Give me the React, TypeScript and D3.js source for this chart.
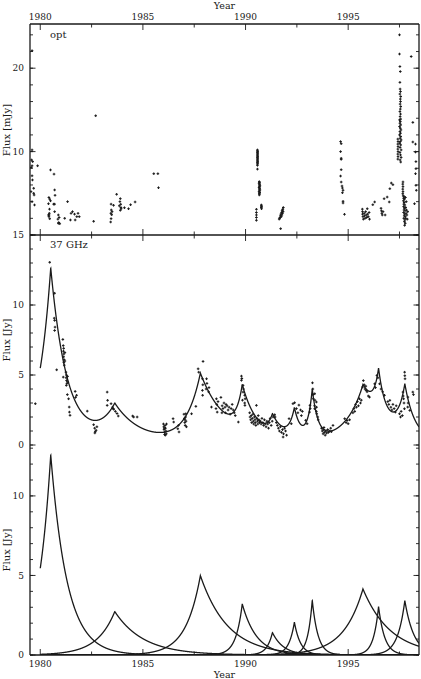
import React from 'react';
import * as d3 from 'd3';

// ---------------- DATA ----------------
const xTickYears = [1980, 1985, 1990, 1995];

// flare model components (peak year, amplitude [Jy], rise & decay timescales [yr])
const flareYears = [1980.51, 1983.63, 1987.8, 1989.84, 1991.31, 1992.38, 1993.25, 1995.72, 1996.48, 1997.76];
const flareAmps = [12.58, 2.73, 4.99, 3.21, 1.41, 2.06, 3.44, 4.15, 3.04, 3.42];
const flareRise = [0.61, 0.87, 0.71, 0.31, 0.27, 0.27, 0.22, 0.95, 0.25, 0.35];
const flareDecay = [0.8, 1.4, 1.33, 0.7, 0.54, 0.3, 0.28, 1.35, 0.3, 0.45];

// optical flux [mJy]
const optData: [number, number][] = [
  [1979.6, 22.1], [1979.6, 10.2], [1979.63, 8.8], [1979.56, 8.1], [1979.6, 8.3], [1979.58, 9.0], [1979.87, 8.3],
  [1979.6, 7.1], [1979.62, 6.6], [1979.55, 5.2], [1979.68, 5.6], [1979.7, 4.8], [1979.68, 5.0], [1979.72, 3.6], [1979.6, 4.0],
  [1980.5, 7.8], [1980.67, 7.3], [1980.42, 4.5], [1980.46, 4.3], [1980.5, 4.1], [1980.4, 3.75], [1980.45, 3.1],
  [1980.43, 2.4], [1980.4, 2.4], [1980.46, 1.95], [1980.44, 2.6], [1980.42, 2.2], [1980.7, 5.4], [1980.72, 4.76],
  [1980.65, 3.7], [1980.7, 3.7], [1980.7, 2.8], [1980.88, 2.4], [1980.86, 1.9], [1980.9, 1.5], [1980.95, 1.35],
  [1980.88, 1.4], [1980.92, 2.1],
  [1981.19, 2.0], [1981.33, 4.0], [1981.5, 2.6], [1981.57, 2.8], [1981.67, 2.5], [1981.7, 1.8], [1981.78, 2.2],
  [1981.84, 2.6], [1981.9, 2.2], [1981.47, 1.8],
  [1982.6, 1.64], [1982.7, 14.3],
  [1983.45, 3.7], [1983.46, 3.0], [1983.44, 2.6], [1983.45, 1.96], [1983.43, 1.56], [1983.48, 2.43], [1983.5, 2.8],
  [1983.57, 3.56], [1983.72, 4.88], [1983.88, 4.0], [1983.9, 4.36], [1983.92, 3.68], [1983.94, 3.15], [1983.9, 2.96],
  [1983.85, 3.5], [1983.93, 3.3], [1984.1, 3.27], [1984.3, 3.15], [1984.4, 3.63], [1984.62, 3.96],
  [1985.53, 7.35], [1985.73, 7.35], [1985.76, 5.67],
  [1990.58, 10.2], [1990.58, 10.1], [1990.59, 10.0], [1990.58, 9.9], [1990.59, 9.8], [1990.58, 9.7], [1990.59, 9.6],
  [1990.58, 9.5], [1990.59, 9.4], [1990.58, 9.3], [1990.59, 9.2], [1990.58, 9.1], [1990.59, 9.0], [1990.58, 8.9],
  [1990.59, 8.8], [1990.58, 8.7], [1990.59, 8.6], [1990.58, 8.5], [1990.58, 8.35], [1990.58, 7.9],
  [1990.67, 6.4], [1990.68, 6.3], [1990.66, 6.2], [1990.69, 6.1], [1990.67, 6.0], [1990.7, 5.9], [1990.68, 5.8],
  [1990.66, 5.7], [1990.69, 5.6], [1990.67, 5.5], [1990.7, 5.4], [1990.68, 5.3], [1990.66, 5.2], [1990.69, 5.1],
  [1990.67, 5.0], [1990.68, 4.9], [1990.67, 4.8],
  [1990.77, 3.6], [1990.77, 3.5], [1990.78, 3.4], [1990.77, 3.3], [1990.78, 3.15],
  [1990.53, 3.08], [1990.53, 2.7], [1990.53, 2.4], [1990.53, 2.1], [1990.53, 1.76],
  [1991.84, 3.3], [1991.82, 3.1], [1991.8, 3.0], [1991.78, 2.9], [1991.83, 2.8], [1991.76, 2.7], [1991.8, 2.6],
  [1991.72, 2.5], [1991.77, 2.4], [1991.7, 2.3], [1991.74, 2.2], [1991.68, 2.1], [1991.66, 2.0], [1991.64, 1.9],
  [1991.71, 0.76],
  [1994.63, 11.2], [1994.66, 10.95], [1994.63, 10.0], [1994.66, 9.2], [1994.66, 9.07], [1994.66, 7.83],
  [1994.63, 7.07], [1994.66, 6.35], [1994.7, 5.87], [1994.72, 5.63], [1994.75, 5.36], [1994.72, 5.07],
  [1994.75, 4.04], [1994.75, 3.84], [1994.82, 2.48],
  [1995.69, 3.1], [1995.7, 2.8], [1995.7, 2.5], [1995.72, 2.2], [1995.74, 1.9], [1995.78, 2.6], [1995.8, 2.3],
  [1995.82, 2.0], [1995.85, 2.8], [1995.88, 2.4], [1995.9, 2.1], [1995.93, 3.15], [1995.95, 2.5], [1995.98, 2.2],
  [1996.02, 2.7], [1996.04, 1.9],
  [1996.2, 3.63], [1996.29, 3.96],
  [1996.6, 3.2], [1996.62, 2.9], [1996.64, 2.6], [1996.66, 2.4], [1996.7, 2.8], [1996.75, 4.35], [1996.8, 2.4],
  [1996.9, 4.55], [1997.0, 3.96], [1997.03, 5.55], [1997.1, 6.23], [1997.18, 6.03],
  [1997.5, 24.0], [1997.5, 21.7], [1997.52, 20.2], [1997.54, 19.6], [1997.52, 18.3],
  [1997.53, 17.5], [1997.55, 17.2], [1997.52, 16.9], [1997.56, 16.6], [1997.54, 16.3], [1997.55, 16.0],
  [1997.53, 15.7], [1997.56, 15.4], [1997.54, 15.1], [1997.52, 14.8], [1997.55, 14.5], [1997.53, 14.2], [1997.56, 13.9],
  [1997.5, 13.8], [1997.54, 13.6], [1997.52, 13.4], [1997.56, 13.2], [1997.5, 13.0], [1997.54, 12.8], [1997.57, 12.6],
  [1997.52, 12.4], [1997.55, 12.2], [1997.5, 12.0], [1997.56, 11.8], [1997.53, 11.6], [1997.58, 11.4],
  [1997.54, 11.2], [1997.51, 11.0], [1997.56, 10.8], [1997.53, 10.5], [1997.58, 10.2], [1997.52, 9.9],
  [1997.55, 9.6], [1997.58, 9.3], [1997.53, 9.0], [1997.56, 8.75],
  [1997.42, 11.5], [1997.43, 11.2], [1997.42, 10.9], [1997.43, 10.6], [1997.42, 10.3], [1997.43, 10.0],
  [1997.42, 9.7], [1997.43, 9.4], [1997.42, 9.1],
  [1997.67, 6.36], [1997.66, 6.1], [1997.67, 5.8], [1997.66, 5.5], [1997.67, 5.2], [1997.66, 4.95],
  [1997.68, 4.7], [1997.72, 4.6], [1997.7, 4.4], [1997.74, 4.3], [1997.69, 4.1], [1997.73, 3.9], [1997.71, 3.7],
  [1997.76, 3.6], [1997.7, 3.4], [1997.74, 3.2], [1997.72, 3.0], [1997.77, 2.9], [1997.7, 2.7], [1997.75, 2.5],
  [1997.73, 2.3], [1997.78, 2.2], [1997.71, 2.0], [1997.76, 1.8], [1997.74, 1.6], [1997.78, 1.4], [1997.75, 1.16],
  [1997.8, 3.3], [1997.82, 2.6], [1997.8, 2.0], [1997.84, 3.0], [1997.86, 2.4], [1997.9, 2.8], [1997.88, 1.9],
  [1997.83, 4.0], [1997.79, 4.5],
  [1998.07, 21.4], [1998.15, 13.5], [1998.15, 11.15], [1998.28, 10.9], [1998.28, 9.95], [1998.3, 7.95],
  [1998.28, 7.35], [1998.3, 5.96], [1998.32, 5.36], [1998.23, 3.75], [1998.3, 8.8],
];

// 37 GHz flux [Jy]
const radioData: [number, number][] = [
  [1979.76, 2.95],
  [1980.46, 13.05], [1980.7, 10.84], [1980.68, 9.06], [1980.7, 8.9], [1980.72, 8.42], [1980.7, 8.18], [1980.8, 5.37],
  [1981.1, 7.54], [1981.12, 7.1], [1981.14, 6.9], [1981.13, 6.7], [1981.15, 6.5], [1981.14, 6.3], [1981.16, 6.1],
  [1981.15, 5.9], [1981.17, 5.7], [1981.2, 6.6], [1981.2, 6.0], [1981.12, 4.85],
  [1981.25, 5.2], [1981.27, 5.0], [1981.26, 4.8], [1981.28, 4.6], [1981.3, 4.4], [1981.27, 4.26], [1981.33, 4.9],
  [1981.34, 4.5], [1981.32, 3.6], [1981.38, 3.3], [1981.41, 2.71], [1981.42, 2.35], [1981.45, 2.12],
  [1981.7, 3.83], [1981.77, 3.55], [1981.72, 3.4],
  [1982.29, 2.42],
  [1982.6, 1.45], [1982.65, 1.2], [1982.68, 0.95], [1982.72, 1.05], [1982.66, 0.86], [1982.76, 1.3],
  [1983.26, 3.78], [1983.28, 3.19], [1983.26, 2.83], [1983.45, 2.95], [1983.52, 2.7], [1983.58, 2.55],
  [1983.66, 2.4], [1983.74, 2.25], [1983.8, 2.07], [1983.55, 2.6],
  [1984.5, 2.07], [1984.55, 2.0], [1984.72, 2.0],
  [1986.0, 1.5], [1986.02, 1.3], [1986.03, 1.1], [1986.05, 0.9], [1986.06, 0.75], [1986.08, 1.4], [1986.1, 1.2],
  [1986.12, 1.0], [1986.14, 0.8], [1986.15, 1.5], [1986.04, 1.2], [1986.09, 0.7],
  [1986.47, 1.88], [1986.5, 1.64],
  [1986.7, 1.16], [1986.76, 0.93], [1986.73, 1.4],
  [1987.0, 2.2], [1987.02, 1.9], [1987.04, 1.6], [1987.06, 1.4], [1987.08, 2.0], [1987.1, 1.7], [1987.12, 1.3],
  [1987.05, 1.8], [1987.09, 2.23],
  [1987.37, 2.23], [1987.58, 2.76],
  [1987.69, 5.44], [1987.72, 5.2], [1987.93, 5.97],
  [1987.9, 4.73], [1987.92, 4.3], [1987.9, 3.9], [1987.91, 3.55],
  [1988.1, 4.73], [1988.12, 4.4], [1988.08, 4.0], [1988.2, 3.8], [1988.22, 4.1],
  [1988.34, 2.71],
  [1988.58, 3.3], [1988.6, 2.9], [1988.56, 2.6], [1988.62, 2.35], [1988.66, 3.1],
  [1988.8, 3.4], [1988.86, 2.8], [1988.9, 2.6], [1988.95, 3.0], [1989.0, 2.7], [1989.05, 2.9], [1989.1, 2.8],
  [1989.15, 2.5], [1989.2, 2.7], [1989.25, 2.2], [1989.3, 2.6], [1989.35, 2.9], [1989.4, 2.5], [1989.45, 2.3],
  [1989.5, 2.1], [1988.85, 2.3], [1989.02, 2.3],
  [1989.65, 1.64],
  [1989.8, 4.92], [1989.82, 4.75], [1989.8, 4.62], [1989.88, 4.26], [1989.9, 4.0], [1989.88, 3.78], [1989.96, 3.55],
  [1989.98, 3.3], [1989.96, 3.0], [1989.97, 2.83], [1989.85, 3.2],
  [1990.2, 2.3], [1990.22, 2.0], [1990.25, 1.8], [1990.28, 2.1], [1990.3, 1.6], [1990.33, 1.9], [1990.36, 2.2],
  [1990.38, 1.7], [1990.4, 1.5], [1990.43, 2.0], [1990.46, 1.8], [1990.48, 1.6], [1990.5, 1.4], [1990.53, 2.83],
  [1990.55, 1.9], [1990.58, 1.7], [1990.6, 1.5], [1990.62, 2.1], [1990.65, 1.8], [1990.68, 1.6],
  [1990.72, 1.7], [1990.76, 1.5], [1990.8, 1.9], [1990.84, 1.6], [1990.88, 1.4], [1990.92, 1.8], [1990.96, 1.5],
  [1991.0, 1.3], [1991.04, 1.7], [1991.08, 1.5], [1991.12, 1.2], [1991.16, 1.6], [1991.2, 1.9], [1991.25, 1.4],
  [1991.3, 1.7], [1991.34, 2.0],
  [1991.42, 2.16], [1991.44, 2.0],
  [1991.5, 1.6], [1991.55, 1.4], [1991.6, 1.2], [1991.65, 1.0], [1991.7, 1.3], [1991.75, 0.9], [1991.8, 1.1],
  [1991.85, 0.8], [1991.9, 1.2], [1991.95, 1.0], [1992.0, 0.7], [1991.83, 0.57],
  [1992.12, 1.88], [1992.23, 1.52], [1992.31, 2.95],
  [1992.39, 3.02], [1992.48, 2.6], [1992.55, 2.3], [1992.6, 2.85], [1992.68, 2.5], [1992.72, 2.1], [1992.77, 2.4],
  [1992.93, 1.76], [1993.0, 1.52],
  [1993.12, 2.35], [1993.14, 2.83], [1993.15, 2.6],
  [1993.26, 4.44], [1993.28, 4.0], [1993.29, 3.6], [1993.3, 3.3], [1993.37, 3.66], [1993.38, 3.2], [1993.36, 2.8],
  [1993.37, 2.59], [1993.45, 3.07], [1993.46, 2.7], [1993.45, 2.4], [1993.47, 2.23], [1993.52, 2.0], [1993.54, 1.8],
  [1993.7, 1.2], [1993.74, 1.0], [1993.78, 0.8], [1993.8, 1.1], [1993.84, 0.9], [1993.88, 0.7], [1993.9, 1.0],
  [1993.95, 0.85], [1994.0, 1.1], [1994.04, 0.9], [1994.1, 1.0], [1994.15, 1.2], [1994.18, 0.95], [1993.82, 1.25],
  [1994.26, 1.4],
  [1994.83, 1.88], [1994.9, 1.6], [1994.95, 1.75], [1995.0, 1.52], [1995.07, 1.8],
  [1995.23, 2.3], [1995.28, 2.6], [1995.32, 2.4], [1995.36, 2.9], [1995.4, 2.7], [1995.45, 3.1], [1995.5, 2.8],
  [1995.55, 3.3], [1995.6, 3.0], [1995.64, 3.2],
  [1995.7, 4.14], [1995.74, 4.6], [1995.78, 4.3], [1995.82, 4.0], [1995.86, 4.2], [1995.92, 3.8], [1995.98, 3.5],
  [1996.04, 3.42], [1995.88, 3.9],
  [1996.29, 4.37], [1996.33, 4.1], [1996.4, 4.97], [1996.45, 4.8],
  [1996.53, 4.37], [1996.6, 4.0], [1996.68, 3.8], [1996.77, 3.55],
  [1996.93, 3.1], [1996.98, 2.9], [1997.03, 3.19], [1997.08, 2.7], [1997.13, 2.5], [1997.18, 2.9], [1997.24, 2.6],
  [1997.3, 2.35], [1997.34, 2.8],
  [1997.5, 2.23], [1997.55, 2.0], [1997.58, 2.4], [1997.64, 2.1],
  [1997.67, 3.78], [1997.7, 3.3], [1997.72, 3.0], [1997.74, 2.59], [1997.68, 3.5],
  [1997.75, 5.2], [1997.76, 4.95], [1997.77, 4.73],
  [1997.91, 3.42], [1997.92, 3.0], [1997.9, 2.71], [1998.0, 2.47],
  [1998.15, 3.78], [1998.18, 3.6],
];

// ---------------- LAYOUT ----------------
const W = 421;
const H = 679;
const L = 30;
const R = 419;
const T1 = 24;
const B1 = 235;
const B2 = 445;
const B3 = 655;
const FONT = '"DejaVu Serif", "Liberation Serif", serif';
const INK = '#1a1a1a';
const NUM = 9;
const TXT = 10;

const x = d3.scaleLinear().domain([1979.5, 1998.45]).range([L, R]);
const y1 = d3.scaleLinear().domain([0, 25.3]).range([B1, T1]);
const y2 = d3.scaleLinear().domain([0, 15]).range([B2, B1]);
const y3 = d3.scaleLinear().domain([0, 13.2]).range([B3, B2]);

function flare(i: number, t: number) {
  const dt = t - flareYears[i];
  return dt < 0 ? flareAmps[i] * Math.exp(dt / flareRise[i]) : flareAmps[i] * Math.exp(-dt / flareDecay[i]);
}

const tGrid = d3.range(1980, 1998.45, 0.004).concat([1998.45]);

function Cross({ cx, cy }: { cx: number; cy: number }) {
  return <path d={`M${cx - 1.3},${cy}H${cx + 1.3}M${cx},${cy - 1.3}V${cy + 1.3}`} stroke={INK} strokeWidth={1} />;
}

function YTicks({ scale, minor, major, labels }: { scale: d3.ScaleLinear<number, number>; minor: number[]; major: number[]; labels: number[] }) {
  return (
    <g>
      {minor.map((v) => (
        <g key={'m' + v}>
          <line x1={L} x2={L + 3} y1={scale(v)} y2={scale(v)} stroke={INK} strokeWidth={0.9} />
          <line x1={R} x2={R - 3} y1={scale(v)} y2={scale(v)} stroke={INK} strokeWidth={0.9} />
        </g>
      ))}
      {major.map((v) => (
        <g key={'M' + v}>
          <line x1={L} x2={L + 5.5} y1={scale(v)} y2={scale(v)} stroke={INK} strokeWidth={0.9} />
          <line x1={R} x2={R - 5.5} y1={scale(v)} y2={scale(v)} stroke={INK} strokeWidth={0.9} />
        </g>
      ))}
      {labels.map((v) => (
        <text key={'t' + v} x={L - 6} y={scale(v)} dy="0.36em" textAnchor="end" fontSize={NUM} fontFamily={FONT} fill={INK}>
          {v}
        </text>
      ))}
    </g>
  );
}

function XTicks({ yLine, dir }: { yLine: number; dir: number }) {
  const minors = d3.range(1980, 1998.5, 2.5);
  return (
    <g>
      {minors.map((v) => {
        const isMajor = Math.abs(v % 5) < 1e-6;
        const len = isMajor ? 6 : 3.5;
        return <line key={v} x1={x(v)} x2={x(v)} y1={yLine} y2={yLine + dir * len} stroke={INK} strokeWidth={0.9} />;
      })}
    </g>
  );
}

export default function App() {
  const line2 = d3
    .line<number>()
    .x((t) => x(t))
    .y((t) => y2(flareYears.reduce((s, _, i) => s + flare(i, t), 0)));

  const compLines = flareYears.map((_, i) =>
    d3
      .line<number>()
      .x((t) => x(t))
      .y((t) => y3(flare(i, t)))(tGrid)
  );

  return (
    <svg width={W} height={H} style={{ display: 'block', position: 'absolute', left: 0, top: 0, background: '#fff' }}>
      <defs>
        <clipPath id="c1">
          <rect x={L} y={T1} width={R - L} height={B1 - T1} />
        </clipPath>
        <clipPath id="c2">
          <rect x={L} y={B1} width={R - L} height={B3 - B1} />
        </clipPath>
      </defs>

      {/* frame */}
      <line x1={L} x2={R} y1={T1} y2={T1} stroke={INK} strokeWidth={1.3} />
      <line x1={L} x2={R} y1={B1} y2={B1} stroke={INK} strokeWidth={1.3} />
      <line x1={L} x2={R} y1={B3} y2={B3} stroke={INK} strokeWidth={1.3} />
      <line x1={L} x2={L} y1={T1} y2={B3} stroke={INK} strokeWidth={1.3} />
      <line x1={R} x2={R} y1={T1} y2={B3} stroke={INK} strokeWidth={1.3} />

      <XTicks yLine={T1} dir={1} />
      <XTicks yLine={B1} dir={-1} />
      <XTicks yLine={B1} dir={1} />
      <XTicks yLine={B3} dir={-1} />

      <YTicks scale={y1} minor={d3.range(0, 25, 2)} major={[0, 10, 20]} labels={[10, 20]} />
      <YTicks scale={y2} minor={d3.range(0, 16, 1)} major={[0, 5, 10, 15]} labels={[0, 5, 10, 15]} />
      <YTicks scale={y3} minor={d3.range(0, 14, 1)} major={[0, 5, 10]} labels={[0, 5, 10]} />

      {/* x labels */}
      {xTickYears.map((v) => (
        <text key={'top' + v} x={x(v)} y={19.5} textAnchor="middle" fontSize={NUM} fontFamily={FONT} fill={INK}>
          {v}
        </text>
      ))}
      {xTickYears.map((v) => (
        <text key={'bot' + v} x={x(v)} y={667} textAnchor="middle" fontSize={NUM} fontFamily={FONT} fill={INK}>
          {v}
        </text>
      ))}
      <text x={(L + R) / 2} y={9} textAnchor="middle" fontSize={9.5} fontFamily={FONT} fill={INK}>
        Year
      </text>
      <text x={(L + R) / 2} y={677.5} textAnchor="middle" fontSize={9.5} fontFamily={FONT} fill={INK}>
        Year
      </text>

      {/* y titles */}
      <text transform="translate(10,130) rotate(-90)" textAnchor="middle" fontSize={TXT} fontFamily={FONT} fill={INK}>
        Flux [mJy]
      </text>
      <text transform="translate(10,340) rotate(-90)" textAnchor="middle" fontSize={TXT} fontFamily={FONT} fill={INK}>
        Flux [Jy]
      </text>
      <text transform="translate(10,550) rotate(-90)" textAnchor="middle" fontSize={TXT} fontFamily={FONT} fill={INK}>
        Flux [Jy]
      </text>

      {/* panel labels */}
      <text x={50} y={37.5} fontSize={TXT} fontFamily={FONT} fill={INK}>opt</text>
      <text x={50} y={247.5} fontSize={TXT} fontFamily={FONT} fill={INK}>37 GHz</text>

      {/* optical points */}
      <g clipPath="url(#c1)">
        {optData.map(([t, f], i) => (
          <Cross key={i} cx={x(t)} cy={y1(f)} />
        ))}
      </g>

      {/* radio points + model */}
      <g clipPath="url(#c2)">
        {radioData.map(([t, f], i) => (
          <Cross key={i} cx={x(t)} cy={y2(f)} />
        ))}
        <path d={line2(tGrid) || ''} fill="none" stroke={INK} strokeWidth={1.3} />
        {compLines.map((d, i) => (
          <path key={i} d={d || ''} fill="none" stroke={INK} strokeWidth={1.3} />
        ))}
      </g>
    </svg>
  );
}
